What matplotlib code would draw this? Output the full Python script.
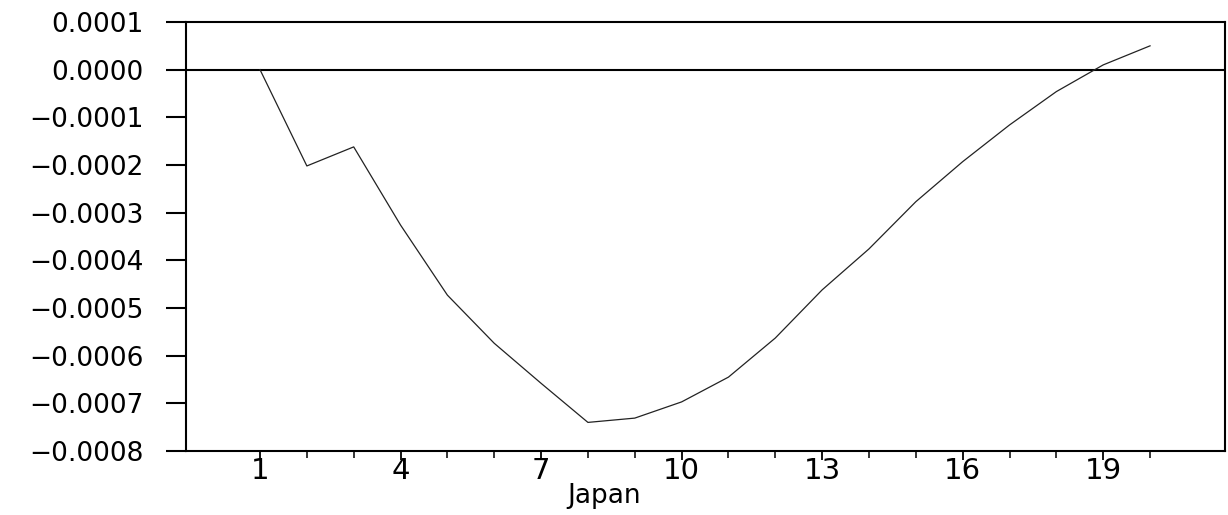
import matplotlib
matplotlib.use("Agg")
import matplotlib.pyplot as plt

# Data
periods = list(range(1, 21))
values = [0.0, -0.000202, -0.000162, -0.000326, -0.000473, -0.000574,
          -0.000658, -0.000740, -0.000731, -0.000697, -0.000645, -0.000563,
          -0.000462, -0.000376, -0.000277, -0.000193, -0.000116, -0.000046,
          0.000010, 0.000050]

y_ticks = [0.0001, 0.0, -0.0001, -0.0002, -0.0003, -0.0004,
           -0.0005, -0.0006, -0.0007, -0.0008]
y_tick_labels = ["0.0001", "0.0000", "\u22120.0001", "\u22120.0002", "\u22120.0003",
                 "\u22120.0004", "\u22120.0005", "\u22120.0006", "\u22120.0007", "\u22120.0008"]
x_major = [1, 4, 7, 10, 13, 16, 19]
x_major_labels = ["1", "4", "7", "10", "13", "16", "19"]
x_minor = [2, 3, 5, 6, 8, 9, 11, 12, 14, 15, 17, 18, 20]
x_label = "Japan"

fig = plt.figure(figsize=(12.28, 5.15), dpi=100)
ax = fig.add_axes([186 / 1228, 1 - 451 / 515, (1225 - 186) / 1228, (451 - 22) / 515])

ax.axhline(0.0, color="black", lw=1.5, zorder=2)
ax.plot(periods, values, color="#222222", lw=0.9, zorder=3)

ax.set_xlim(-0.58, 21.6)
ax.set_ylim(-0.0008, 0.0001)

ax.set_yticks(y_ticks)
ax.set_yticklabels(y_tick_labels)
ax.set_xticks(x_major)
ax.set_xticklabels(x_major_labels)
ax.set_xticks(x_minor, minor=True)

ax.tick_params(axis="y", direction="out", length=14.4, width=1.5, pad=16,
               labelsize=19, colors="black")
ax.tick_params(axis="x", which="major", direction="out", length=6.5, width=1.3,
               pad=-2, labelsize=21)
ax.tick_params(axis="x", which="minor", direction="out", length=5, width=1.1)

for s in ax.spines.values():
    s.set_linewidth(1.5)
    s.set_color("black")

ax.set_xlabel(x_label, fontsize=19)
ax.xaxis.set_label_coords(0.402, -0.075)

fig.savefig("out.png", dpi=100)
